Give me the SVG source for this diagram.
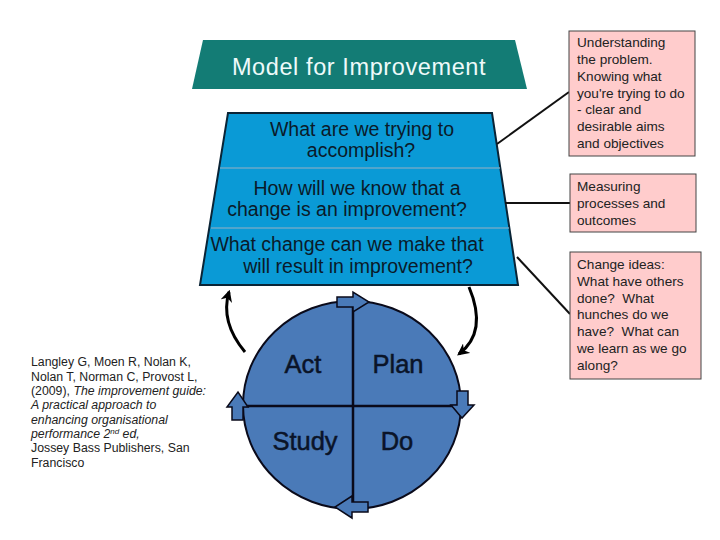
<svg xmlns="http://www.w3.org/2000/svg" width="720" height="540" viewBox="0 0 720 540">
<defs>
<style>
text{font-family:"Liberation Sans",Arial,sans-serif;}
.q{font-size:19.5px;fill:#0a1a2a;text-anchor:middle;}
.pdca{font-size:25.5px;fill:#0a1428;text-anchor:middle;stroke:#0a1428;stroke-width:0.5;}
.note{font-size:13.6px;fill:#222;}
.ref{font-size:12.3px;fill:#222;}
.box{fill:#ffcccc;stroke:#444;stroke-width:1;}
.conn{stroke:#111;stroke-width:2;fill:none;}
.blk{fill:#4a7ab8;stroke:#0a0a1a;stroke-width:1.5;stroke-linejoin:miter;}
.curve{stroke:#000;stroke-width:3;fill:none;}
</style>
<marker id="ah" viewBox="0 0 10 10" refX="8" refY="5" markerWidth="4" markerHeight="4" orient="auto" markerUnits="strokeWidth">
<path d="M0,0 L10,5 L0,10 L3,5 Z" fill="#000"/>
</marker>
</defs>
<rect width="720" height="540" fill="#fff"/>

<g id="title">
<polygon points="203,40 515,40 527,89 192,89" fill="#137c75"/>
<text x="359" y="75" font-size="23.5px" fill="#eefafa" text-anchor="middle" letter-spacing="0.6">Model for Improvement</text>
</g>

<g id="questions">
<polygon points="228,113 492,113 518,285 200,285" fill="#0a9ad6" stroke="#0a2436" stroke-width="2"/>
<line x1="220" y1="168" x2="500" y2="168" stroke="#6aa8c8" stroke-width="1.5"/>
<line x1="211" y1="228" x2="509" y2="228" stroke="#6aa8c8" stroke-width="1.5"/>
<text class="q" x="362" y="136">What are we trying to</text>
<text class="q" x="361" y="157">accomplish?</text>
<text class="q" x="357" y="195">How will we know that a</text>
<text class="q" x="347" y="216">change is an improvement?</text>
<text class="q" x="347" y="251">What change can we make that</text>
<text class="q" x="358" y="273">will result in improvement?</text>
</g>

<g id="connectors">
<line class="conn" x1="569" y1="92" x2="497" y2="144"/>
<line class="conn" x1="570" y1="203" x2="505" y2="203"/>
<line class="conn" x1="570" y1="314" x2="517" y2="257"/>
<path class="curve" d="M245,352 Q220,322 229,292" marker-end="url(#ah)"/>
<path class="curve" d="M469,287 Q488,332 459,354" marker-end="url(#ah)"/>
</g>

<g id="note1">
<rect class="box" x="569" y="31" width="126" height="125"/>
<text class="note" x="577" y="47">Understanding</text>
<text class="note" x="577" y="64">the problem.</text>
<text class="note" x="577" y="81">Knowing what</text>
<text class="note" x="577" y="98">you're trying to do</text>
<text class="note" x="577" y="114">- clear and</text>
<text class="note" x="577" y="131">desirable aims</text>
<text class="note" x="577" y="148">and objectives</text>
</g>

<g id="note2">
<rect class="box" x="570" y="174" width="126" height="58"/>
<text class="note" x="577" y="191">Measuring</text>
<text class="note" x="577" y="208">processes and</text>
<text class="note" x="577" y="225">outcomes</text>
</g>

<g id="note3">
<rect class="box" x="570" y="252" width="131" height="127"/>
<text class="note" x="577" y="269" fill="#c41e3a">Change ideas:</text>
<text class="note" x="577" y="286">What have others</text>
<text class="note" x="577" y="303">done?&#160; What</text>
<text class="note" x="577" y="319">hunches do we</text>
<text class="note" x="577" y="336">have?&#160; What can</text>
<text class="note" x="577" y="353">we learn as we go</text>
<text class="note" x="577" y="370">along?</text>
</g>

<g id="cycle">
<ellipse cx="352" cy="405" rx="109" ry="104" fill="#4a7ab8" stroke="#0a0a1a" stroke-width="2"/>
<line x1="353" y1="302" x2="353" y2="508" stroke="#0a0a1a" stroke-width="2.5"/>
<line x1="244" y1="406" x2="460" y2="406" stroke="#0a0a1a" stroke-width="2.5"/>
<polygon class="blk" points="337,297 353,297 353,292 369,302 353,312 353,307 337,307"/>
<polygon class="blk" points="457,391 468,391 468,405 474,405 462,418 451,405 457,405"/>
<polygon class="blk" points="368,502 352,502 352,496 335,507 352,518 352,512 368,512"/>
<polygon class="blk" points="232,420 243,420 243,407 248,407 238,392 227,407 232,407"/>
<text class="pdca" x="303" y="373">Act</text>
<text class="pdca" x="398" y="373">Plan</text>
<text class="pdca" x="305" y="450">Study</text>
<text class="pdca" x="397" y="450">Do</text>
</g>

<g id="reference">
<text class="ref" x="31" y="366">Langley G, Moen R, Nolan K,</text>
<text class="ref" x="31" y="381">Nolan T, Norman C, Provost L,</text>
<text class="ref" x="31" y="395">(2009), <tspan font-style="italic">The improvement guide:</tspan></text>
<text class="ref" x="31" y="409" font-style="italic">A practical approach to</text>
<text class="ref" x="31" y="424" font-style="italic">enhancing organisational</text>
<text class="ref" x="31" y="438" font-style="italic">performance 2<tspan font-size="8px" dy="-4">nd</tspan><tspan dy="4"> ed,</tspan></text>
<text class="ref" x="31" y="452">Jossey Bass Publishers, San</text>
<text class="ref" x="31" y="467">Francisco</text>
</g>
</svg>
